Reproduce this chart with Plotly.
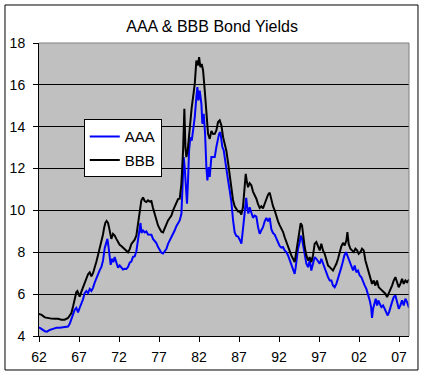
import plotly.graph_objects as go

aaa_year = [1962.00, 1962.33, 1962.73, 1963.00, 1963.34, 1963.75, 1964.17, 1964.59, 1965.00, 1965.42,
            1965.63, 1965.84, 1966.05, 1966.25, 1966.46, 1966.67, 1966.88, 1967.09, 1967.30, 1967.50,
            1967.71, 1967.92, 1968.13, 1968.34, 1968.55, 1968.75, 1968.96, 1969.17, 1969.38, 1969.59,
            1969.80, 1970.00, 1970.21, 1970.42, 1970.55, 1970.71, 1970.83, 1970.96, 1971.13, 1971.29,
            1971.46, 1971.67, 1971.88, 1972.08, 1972.29, 1972.50, 1972.71, 1972.92, 1973.13, 1973.34,
            1973.54, 1973.75, 1973.96, 1974.17, 1974.38, 1974.58, 1974.69, 1974.80, 1975.00, 1975.21,
            1975.42, 1975.63, 1975.84, 1976.05, 1976.25, 1976.46, 1976.67, 1976.88, 1977.09, 1977.30,
            1977.50, 1977.71, 1977.92, 1978.13, 1978.34, 1978.55, 1978.76, 1978.97, 1979.17, 1979.38,
            1979.59, 1979.80, 1979.92, 1980.09, 1980.21, 1980.34, 1980.50, 1980.63, 1980.76, 1980.92,
            1981.09, 1981.26, 1981.47, 1981.67, 1981.80, 1981.92, 1982.09, 1982.30, 1982.42, 1982.59,
            1982.76, 1982.92, 1983.05, 1983.21, 1983.34, 1983.55, 1983.76, 1983.97, 1984.17, 1984.38,
            1984.51, 1984.67, 1984.80, 1984.92, 1985.09, 1985.21, 1985.42, 1985.63, 1985.84, 1986.05,
            1986.26, 1986.46, 1986.67, 1986.88, 1987.09, 1987.30, 1987.51, 1987.72, 1987.90, 1988.05,
            1988.17, 1988.33, 1988.54, 1988.75, 1988.96, 1989.17, 1989.38, 1989.59, 1989.79, 1990.00,
            1990.21, 1990.42, 1990.63, 1990.84, 1991.04, 1991.25, 1991.46, 1991.67, 1991.88, 1992.08,
            1992.29, 1992.50, 1992.71, 1992.92, 1993.13, 1993.33, 1993.54, 1993.75, 1993.96, 1994.09,
            1994.25, 1994.38, 1994.59, 1994.71, 1994.88, 1995.04, 1995.21, 1995.42, 1995.63, 1995.84,
            1996.04, 1996.25, 1996.46, 1996.67, 1996.88, 1997.09, 1997.29, 1997.50, 1997.71, 1997.92,
            1998.13, 1998.34, 1998.55, 1998.75, 1998.96, 1999.17, 1999.38, 1999.59, 1999.80, 2000.00,
            2000.17, 2000.38, 2000.63, 2000.84, 2001.05, 2001.26, 2001.46, 2001.67, 2001.88, 2002.09,
            2002.30, 2002.51, 2002.72, 2002.92, 2003.13, 2003.34, 2003.51, 2003.63, 2003.76, 2003.92,
            2004.09, 2004.26, 2004.42, 2004.59, 2004.80, 2005.01, 2005.22, 2005.42, 2005.59, 2005.76,
            2005.92, 2006.13, 2006.34, 2006.55, 2006.76, 2006.97, 2007.17, 2007.38, 2007.59, 2007.80,
            2008.01, 2008.17, 2008.25]
aaa_yield = [4.42, 4.34, 4.23, 4.21, 4.29, 4.34, 4.39, 4.39, 4.40, 4.42,
             4.45, 4.58, 4.82, 5.05, 5.25, 5.34, 5.13, 5.35, 5.55, 5.75,
             6.05, 6.15, 6.05, 6.25, 6.15, 6.30, 6.55, 6.78, 6.95, 7.15,
             7.30, 7.60, 8.20, 8.52, 8.64, 8.20, 7.77, 7.40, 7.69, 7.53,
             7.77, 7.53, 7.26, 7.37, 7.26, 7.18, 7.21, 7.20, 7.30, 7.50,
             7.55, 7.78, 7.80, 8.05, 8.60, 9.20, 9.40, 8.92, 9.04, 8.95,
             9.00, 8.85, 8.85, 8.84, 8.64, 8.56, 8.44, 8.25, 8.10, 7.98,
             7.94, 8.02, 8.15, 8.40, 8.55, 8.68, 8.84, 9.05, 9.25, 9.40,
             9.52, 9.84, 11.11, 12.55, 12.07, 10.95, 10.32, 11.43, 12.87, 13.50,
             13.34, 13.82, 14.46, 15.41, 15.89, 15.25, 15.73, 15.09, 14.14, 14.62,
             13.66, 12.07, 11.43, 12.07, 11.60, 12.55, 12.55, 12.55, 13.03, 13.34,
             13.66, 13.74, 13.34, 13.03, 12.87, 12.50, 11.90, 11.45, 10.95, 10.40,
             9.52, 8.95, 8.78, 8.75, 8.60, 8.41, 9.15, 10.16, 10.60, 10.05,
             9.85, 10.15, 9.85, 9.65, 9.75, 9.70, 9.20, 8.88, 9.05, 9.20,
             9.48, 9.64, 9.48, 9.64, 9.10, 8.92, 8.85, 8.65, 8.45, 8.30,
             8.22, 8.25, 8.09, 8.01, 7.85, 7.61, 7.45, 7.13, 6.97, 7.29,
             7.77, 8.17, 8.49, 8.80, 8.64, 8.25, 7.77, 7.45, 7.29, 7.61,
             7.13, 7.45, 7.77, 7.69, 7.53, 7.45, 7.69, 7.45, 7.29, 6.97,
             6.81, 6.65, 6.65, 6.41, 6.33, 6.49, 6.73, 7.05, 7.29, 7.58,
             7.85, 8.01, 7.77, 7.53, 7.37, 7.13, 7.37, 7.05, 7.13, 6.89,
             6.81, 6.65, 6.41, 6.25, 6.02, 5.70, 5.38, 4.87, 5.30, 5.62,
             5.78, 5.46, 5.70, 5.54, 5.38, 5.46, 5.30, 5.14, 4.98, 5.14,
             5.38, 5.62, 5.86, 5.94, 5.62, 5.30, 5.46, 5.70, 5.46, 5.78,
             5.62, 5.38, 5.35]

bbb_year = [1962.00, 1962.33, 1962.73, 1963.13, 1963.55, 1963.96, 1964.38, 1964.80, 1965.21, 1965.63,
            1965.84, 1966.05, 1966.25, 1966.46, 1966.67, 1966.80, 1966.96, 1967.09, 1967.30, 1967.50,
            1967.71, 1967.92, 1968.13, 1968.34, 1968.55, 1968.75, 1968.96, 1969.17, 1969.38, 1969.59,
            1969.80, 1970.00, 1970.13, 1970.30, 1970.45, 1970.63, 1970.75, 1970.88, 1971.04, 1971.25,
            1971.46, 1971.67, 1971.88, 1972.08, 1972.29, 1972.50, 1972.71, 1972.92, 1973.13, 1973.34,
            1973.55, 1973.75, 1973.96, 1974.17, 1974.38, 1974.58, 1974.79, 1975.00, 1975.21, 1975.42,
            1975.63, 1975.84, 1976.05, 1976.25, 1976.46, 1976.67, 1976.88, 1977.09, 1977.30, 1977.50,
            1977.71, 1977.92, 1978.13, 1978.34, 1978.55, 1978.76, 1978.97, 1979.17, 1979.38, 1979.59,
            1979.80, 1980.01, 1980.17, 1980.30, 1980.42, 1980.59, 1980.76, 1980.92, 1981.09, 1981.26,
            1981.47, 1981.67, 1981.88, 1982.01, 1982.17, 1982.34, 1982.51, 1982.72, 1982.92, 1983.13,
            1983.34, 1983.55, 1983.76, 1983.97, 1984.17, 1984.38, 1984.59, 1984.80, 1985.01, 1985.21,
            1985.42, 1985.63, 1985.84, 1986.04, 1986.25, 1986.46, 1986.67, 1986.88, 1987.09, 1987.29,
            1987.50, 1987.71, 1987.84, 1987.96, 1988.13, 1988.33, 1988.54, 1988.75, 1988.96, 1989.17,
            1989.38, 1989.59, 1989.79, 1990.00, 1990.21, 1990.42, 1990.63, 1990.84, 1991.04, 1991.25,
            1991.46, 1991.67, 1991.88, 1992.08, 1992.29, 1992.50, 1992.71, 1992.92, 1993.13, 1993.33,
            1993.54, 1993.75, 1993.96, 1994.09, 1994.25, 1994.38, 1994.59, 1994.71, 1994.88, 1995.04,
            1995.21, 1995.42, 1995.63, 1995.84, 1996.04, 1996.25, 1996.46, 1996.67, 1996.88, 1997.09,
            1997.29, 1997.50, 1997.71, 1997.92, 1998.13, 1998.34, 1998.55, 1998.75, 1998.96, 1999.17,
            1999.38, 1999.59, 1999.80, 2000.00, 2000.21, 2000.42, 2000.55, 2000.71, 2000.92, 2001.13,
            2001.34, 2001.55, 2001.76, 2001.96, 2002.17, 2002.38, 2002.59, 2002.80, 2003.01, 2003.21,
            2003.42, 2003.63, 2003.84, 2004.05, 2004.25, 2004.46, 2004.67, 2004.88, 2005.09, 2005.30,
            2005.51, 2005.71, 2005.92, 2006.13, 2006.34, 2006.55, 2006.76, 2006.96, 2007.17, 2007.38,
            2007.59, 2007.80, 2008.01, 2008.17, 2008.25]
bbb_yield = [5.05, 5.01, 4.89, 4.85, 4.83, 4.82, 4.82, 4.78, 4.78, 4.86,
             4.97, 5.10, 5.40, 5.80, 6.10, 6.15, 5.93, 5.88, 6.12, 6.33,
             6.57, 6.81, 6.95, 7.04, 6.85, 7.00, 7.25, 7.55, 7.87, 8.17,
             8.45, 8.85, 9.15, 9.42, 9.50, 9.40, 9.20, 8.88, 8.64, 8.88,
             8.80, 8.64, 8.48, 8.36, 8.30, 8.23, 8.15, 8.09, 8.00, 8.15,
             8.40, 8.50, 8.60, 8.80, 9.40, 10.00, 10.47, 10.62, 10.45, 10.40,
             10.48, 10.42, 10.45, 10.12, 9.84, 9.52, 9.28, 9.12, 8.98, 8.95,
             9.15, 9.38, 9.52, 9.64, 9.76, 10.00, 10.20, 10.40, 10.54, 10.56,
             11.27, 12.87, 14.86, 13.02, 12.55, 12.87, 13.66, 14.46, 14.93, 15.41,
             16.05, 17.16, 16.93, 17.32, 16.85, 17.00, 16.69, 15.73, 14.62, 13.66,
             13.42, 13.80, 13.65, 13.66, 13.82, 14.22, 14.30, 14.06, 13.50, 13.20,
             12.85, 12.30, 11.75, 11.20, 10.50, 10.20, 10.05, 9.95, 9.95, 9.80,
             10.16, 11.30, 11.75, 11.43, 11.11, 11.30, 11.20, 10.90, 10.75, 10.56,
             10.30, 10.12, 10.20, 10.10, 10.32, 10.60, 10.75, 10.85, 10.50, 10.20,
             10.00, 9.70, 9.48, 9.30, 9.16, 8.98, 8.72, 8.49, 8.25, 8.09,
             7.85, 7.69, 7.53, 7.85, 8.25, 8.72, 9.12, 9.39, 9.28, 8.72,
             8.25, 7.85, 7.61, 7.77, 7.53, 7.85, 8.41, 8.49, 8.25, 8.09,
             8.41, 8.09, 7.93, 7.69, 7.37, 7.29, 7.21, 7.13, 7.29, 7.45,
             7.69, 8.05, 8.29, 8.45, 8.33, 8.56, 8.96, 8.40, 8.17, 8.09,
             8.01, 8.17, 8.09, 7.93, 8.01, 8.17, 8.09, 7.61, 7.29, 7.05,
             6.81, 6.49, 6.65, 6.41, 6.65, 6.33, 6.25, 6.17, 6.10, 6.02,
             5.86, 6.02, 6.25, 6.41, 6.65, 6.81, 6.57, 6.33, 6.49, 6.73,
             6.49, 6.65, 6.57, 6.65, 6.60]

tick_years = [1962, 1967, 1972, 1977, 1982, 1987, 1992, 1997, 2002, 2007]
tick_labels = ["62", "67", "72", "77", "82", "87", "92", "97", "02", "07"]
y_ticks = [4, 6, 8, 10, 12, 14, 16, 18]

assert len(aaa_year) == len(aaa_yield)
assert len(bbb_year) == len(bbb_yield)

FONT = "Liberation Sans, Arial, sans-serif"

fig = go.Figure()
fig.add_trace(go.Scatter(x=aaa_year, y=aaa_yield, mode="lines", name="AAA",
                         legendgroup="a", line=dict(color="#0000FF", width=2)))
fig.add_trace(go.Scatter(x=bbb_year, y=bbb_yield, mode="lines", name="BBB",
                         legendgroup="b", line=dict(color="#000000", width=2)))

fig.update_layout(
    width=425, height=376,
    margin=dict(l=39, r=16, t=43, b=40, autoexpand=False),
    paper_bgcolor="white", plot_bgcolor="#C0C0C0",
    font=dict(family=FONT, size=14, color="black"),
    title=dict(text="AAA & BBB Bond Yields", x=0.499, xref="container", xanchor="center",
               y=1 - 26 / 376, yref="container", yanchor="middle",
               font=dict(family=FONT, size=16, color="black")),
    showlegend=True,
    legend=dict(x=0.121, y=0.74, xanchor="left", yanchor="top",
                bgcolor="white", bordercolor="black", borderwidth=1,
                font=dict(family=FONT, size=15, color="black"),
                tracegroupgap=1, itemwidth=30),
    xaxis=dict(range=[1962, 2008.25], tickmode="array", tickvals=tick_years, ticktext=tick_labels,
               ticks="outside", ticklen=5, tickcolor="black", showline=True, linecolor="black",
               linewidth=1, showgrid=False, zeroline=False, fixedrange=True,
               ticklabelstandoff=3, automargin=False),
    yaxis=dict(range=[4, 18], tickmode="array", tickvals=y_ticks,
               ticks="outside", ticklen=5, tickcolor="black", showline=True, linecolor="black",
               linewidth=1, showgrid=True, gridcolor="black", gridwidth=1, zeroline=False,
               fixedrange=True, ticklabelstandoff=5, automargin=False),
    shapes=[
        dict(type="line", xref="paper", yref="paper", x0=0, x1=1, y0=1, y1=1,
             line=dict(color="#808080", width=1), layer="above"),
        dict(type="line", xref="paper", yref="paper", x0=1, x1=1, y0=0, y1=1,
             line=dict(color="#808080", width=1), layer="above"),
        dict(type="rect", xref="paper", yref="paper", x0=-0.0919, x1=1.0243, y0=-0.116, y1=1.1297,
             line=dict(color="black", width=1), fillcolor="rgba(0,0,0,0)", layer="above"),
    ],
)

fig.write_html("out.html", config={"displayModeBar": False},
               post_script="document.body.style.margin='0px';")
